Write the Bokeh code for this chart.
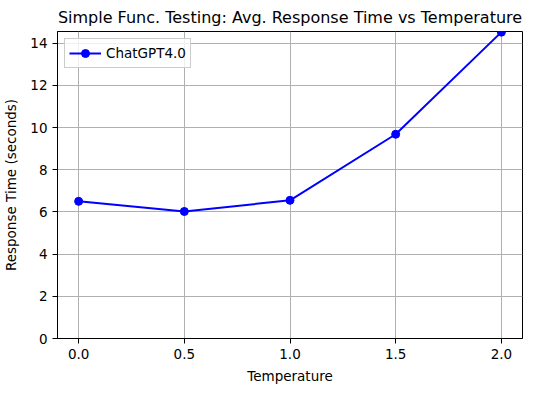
from bokeh.plotting import figure
from bokeh.embed import file_html
from bokeh.resources import INLINE
from bokeh.models import FixedTicker, Range1d, NumeralTickFormatter

temperature = [0.0, 0.5, 1.0, 1.5, 2.0]
response_time = [6.5, 6.02, 6.55, 9.68, 14.52]
x_ticks = [0.0, 0.5, 1.0, 1.5, 2.0]
y_ticks = [0, 2, 4, 6, 8, 10, 12, 14]

FONT = "DejaVu Sans"

p = figure(frame_width=465, frame_height=307, output_backend="svg", toolbar_location=None,
           x_range=Range1d(-0.1, 2.1), y_range=Range1d(0, 14.55),
           title="Simple Func. Testing: Avg. Response Time vs Temperature",
           min_border_left=49, min_border_right=10, min_border_top=26, min_border_bottom=45)

p.title.text_font = FONT
p.title.text_font_size = "16px"
p.title.text_font_style = "normal"
p.title.text_color = "black"
p.title.align = "center"
p.title.offset = 0

p.line(temperature, response_time, line_color="blue", line_width=2, legend_label="ChatGPT4.0")
p.scatter(temperature, response_time, marker="circle", size=8, fill_color="blue", line_color="blue",
          legend_label="ChatGPT4.0")

p.xaxis.ticker = FixedTicker(ticks=x_ticks)
p.yaxis.ticker = FixedTicker(ticks=y_ticks)
p.xaxis.formatter = NumeralTickFormatter(format="0.0")
p.xaxis.axis_label = "Temperature"
p.yaxis.axis_label = "Response Time (seconds)"
for ax in (p.xaxis, p.yaxis):
    ax.axis_label_text_font = FONT
    ax.axis_label_text_font_size = "13.5px"
    ax.axis_label_text_font_style = "normal"
    ax.major_label_text_font = FONT
    ax.major_label_text_font_size = "13.5px"
    ax.major_tick_in = 0
    ax.major_tick_out = 5
    ax.minor_tick_out = 0
    ax.minor_tick_in = 0
    ax.axis_line_color = "black"
    ax.major_tick_line_color = "black"
    ax.major_label_text_color = "black"
    ax.axis_label_text_color = "black"
p.xaxis.axis_label_standoff = 6
p.yaxis.axis_label_standoff = 8

p.grid.grid_line_color = "#b0b0b0"
p.grid.grid_line_width = 1
p.outline_line_color = "black"
p.outline_line_width = 1

p.legend.location = "top_left"
p.legend.label_text_font = FONT
p.legend.label_text_font_size = "13.5px"
p.legend.label_text_color = "black"
p.legend.border_line_color = "#cccccc"
p.legend.border_line_alpha = 1
p.legend.margin = 7
p.legend.padding = 4
p.legend.glyph_width = 32
p.legend.background_fill_alpha = 0.8

open("out.html", "w").write(file_html(p, INLINE))
